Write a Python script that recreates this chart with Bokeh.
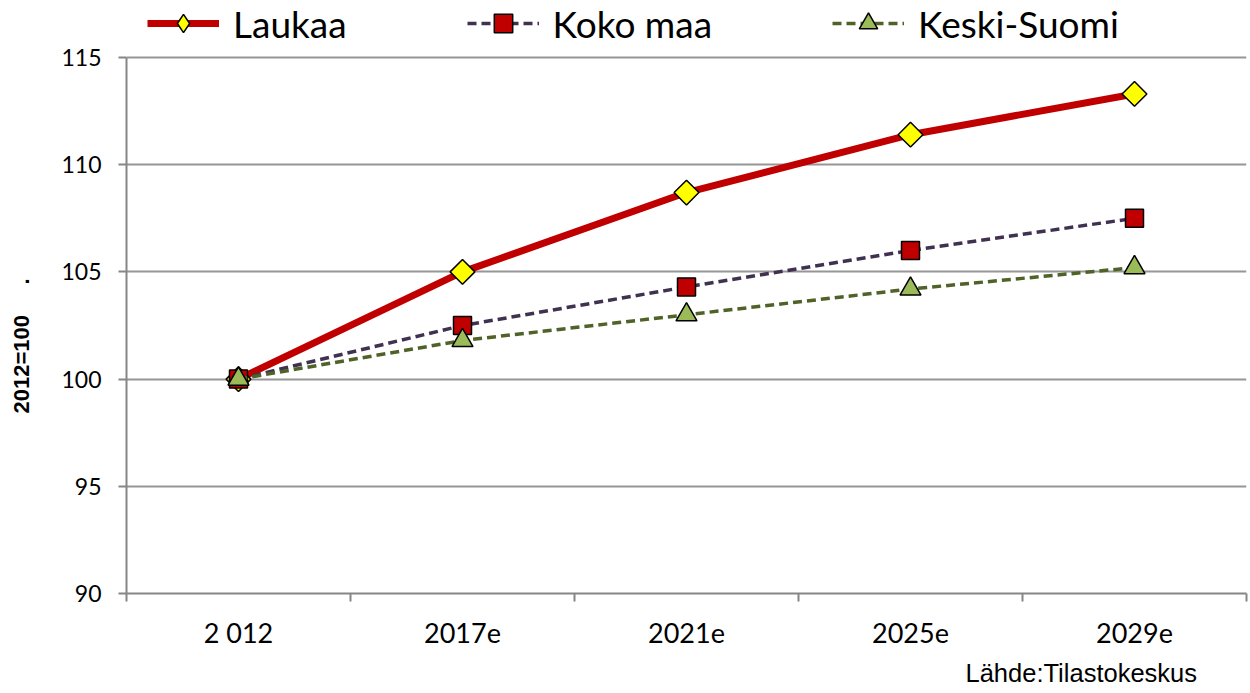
import numpy as np
from bokeh.plotting import figure
from bokeh.models import (Range1d, FactorRange, LinearAxis, FixedTicker, Legend,
                          LegendItem, Title)
from bokeh.embed import file_html
from bokeh.resources import INLINE

categories = ["2 012", "2017e", "2021e", "2025e", "2029e"]
laukaa = [100.0, 105.0, 108.7, 111.4, 113.3]
koko_maa = [100.0, 102.5, 104.3, 106.0, 107.5]
keski_suomi = [100.0, 101.8, 103.0, 104.2, 105.2]
y_ticks = [90, 95, 100, 105, 110, 115]
series_names = ["Laukaa", "Koko maa", "Keski-Suomi"]
y_title = "2012=100"
source_text = "Lähde:Tilastokeskus"

AXIS_GRAY = "#868686"
GRID_GRAY = "#969696"
NB = "\u00a0"

# frame spans the full height above the x axis; the top strip (above 115) holds the legend
Y_MIN, Y_MAX = 90, 115
PX_PER_UNIT = 536 / (Y_MAX - Y_MIN)
Y_TOP = Y_MAX + 57 / PX_PER_UNIT

p = figure(width=1250, height=693,
           x_range=FactorRange(factors=categories, range_padding=0),
           y_range=Range1d(Y_MIN, Y_TOP),
           x_axis_type=None,
           output_backend="svg", toolbar_location=None,
           min_border_left=126, min_border_right=4,
           min_border_top=0, min_border_bottom=100)
p.outline_line_color = None
p.background_fill_color = "white"
p.border_fill_color = "white"

# y axis
yax = p.yaxis[0]
yax.ticker = FixedTicker(ticks=y_ticks)
yax.bounds = (Y_MIN, Y_MAX)
yax.axis_line_color = AXIS_GRAY
yax.axis_line_width = 2
yax.major_tick_line_color = AXIS_GRAY
yax.major_tick_line_width = 2
yax.major_tick_out = 8
yax.major_tick_in = 0
yax.minor_tick_line_color = None
yax.major_label_text_font = "Lato"
yax.major_label_text_font_size = "23px"
yax.major_label_text_color = "black"
yax.major_label_standoff = 17
yax.axis_label = y_title + NB * 5 + "." + NB * 16
yax.axis_label_text_font = "Liberation Sans"
yax.axis_label_text_font_style = "bold"
yax.axis_label_text_font_size = "22px"
yax.axis_label_text_color = "black"
yax.axis_label_standoff = 24
p.ygrid.grid_line_color = GRID_GRAY
p.ygrid.grid_line_width = 2

# x axis: labels at category centres, ticks at category boundaries
centres = [i + 0.5 for i in range(len(categories))]
bounds = list(range(len(categories) + 1))
xax = LinearAxis(ticker=FixedTicker(ticks=centres, minor_ticks=bounds),
                 major_label_overrides={c: lab for c, lab in zip(centres, categories)})
xax.axis_line_color = AXIS_GRAY
xax.axis_line_width = 2
xax.major_tick_line_color = None
xax.minor_tick_line_color = AXIS_GRAY
xax.minor_tick_line_width = 2
xax.minor_tick_out = 8
xax.minor_tick_in = 0
xax.major_label_text_font = "Lato"
xax.major_label_text_font_size = "27px"
xax.major_label_text_color = "black"
xax.major_label_standoff = 14
p.add_layout(xax, "below")

# source note below the axis
p.add_layout(Title(text=source_text, align="left", offset=839,
                   text_font="Liberation Sans", text_font_style="normal",
                   text_font_size="25.5px", text_color="black", standoff=11), "below")

# series
l1 = p.line(categories, laukaa, line_color="#C00000", line_width=7)
m1 = p.scatter(categories, laukaa, marker="square", angle=np.pi / 4, size=17.5,
               fill_color="#FFFF00", line_color="black", line_width=1.5)
l2 = p.line(categories, koko_maa, line_color="#403151", line_width=3.5, line_dash="9 5")
m2 = p.scatter(categories, koko_maa, marker="square", size=18,
               fill_color="#C00000", line_color="black", line_width=1.5)
l3 = p.line(categories, keski_suomi, line_color="#4F6228", line_width=3.5, line_dash="9 5")
m3 = p.scatter(categories, keski_suomi, marker="triangle", size=21,
               fill_color="#9BBB59", line_color="black", line_width=1.5)

# legend-only diamond key (legend keys are drawn unrotated)
key1 = p.scatter([categories[0]], [np.nan], marker="diamond", size=20,
                 fill_color="#FFFF00", line_color="black", line_width=1.5)

legend = Legend(items=[LegendItem(label=series_names[0], renderers=[l1, key1]),
                       LegendItem(label=series_names[1], renderers=[l2, m2]),
                       LegendItem(label=series_names[2], renderers=[l3, m3])],
                orientation="horizontal", location=(21, 547),
                glyph_width=72, glyph_height=46, label_standoff=14, spacing=120,
                padding=0, margin=0, border_line_color=None,
                background_fill_color=None,
                label_text_font="Lato", label_text_font_size="37px",
                label_text_color="black")
p.add_layout(legend, "center")

open("out.html", "w").write(file_html(p, INLINE))
